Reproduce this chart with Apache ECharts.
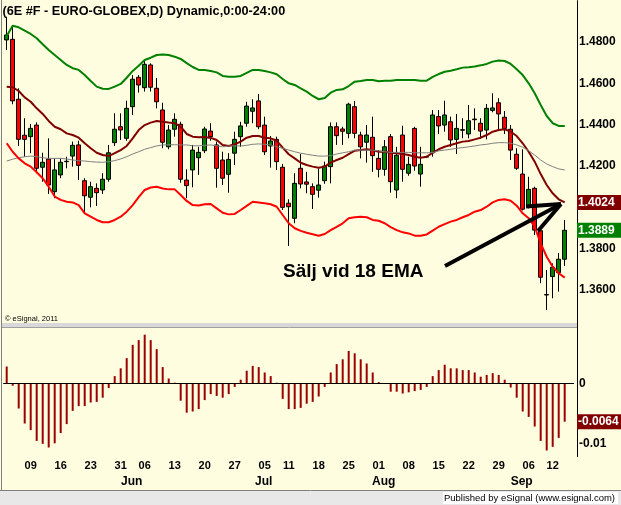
<!DOCTYPE html>
<html>
<head>
<meta charset="utf-8">
<title>6E #F EURO-GLOBEX</title>
<script src="https://cdn.jsdelivr.net/npm/echarts@6/dist/echarts.min.js"></script>
<style>
  html, body { margin: 0; padding: 0; background: #fefde0; }
  #chart { width: 621px; height: 505px; }
</style>
</head>
<body>
<div id="chart"></div>
<script>
// trading days, 3 May - 14 Sep 2011
const dates = [
  "2011-05-03", "2011-05-04", "2011-05-05", "2011-05-06", "2011-05-09", "2011-05-10", "2011-05-11", "2011-05-12", "2011-05-13",
  "2011-05-16", "2011-05-17", "2011-05-18", "2011-05-19", "2011-05-20", "2011-05-23", "2011-05-24", "2011-05-25", "2011-05-26",
  "2011-05-27", "2011-05-31", "2011-06-01", "2011-06-02", "2011-06-03", "2011-06-06", "2011-06-07", "2011-06-08", "2011-06-09",
  "2011-06-10", "2011-06-13", "2011-06-14", "2011-06-15", "2011-06-16", "2011-06-17", "2011-06-20", "2011-06-21", "2011-06-22",
  "2011-06-23", "2011-06-24", "2011-06-27", "2011-06-28", "2011-06-29", "2011-06-30", "2011-07-01", "2011-07-05", "2011-07-06",
  "2011-07-07", "2011-07-08", "2011-07-11", "2011-07-12", "2011-07-13", "2011-07-14", "2011-07-15", "2011-07-18", "2011-07-19",
  "2011-07-20", "2011-07-21", "2011-07-22", "2011-07-25", "2011-07-26", "2011-07-27", "2011-07-28", "2011-07-29", "2011-08-01",
  "2011-08-02", "2011-08-03", "2011-08-04", "2011-08-05", "2011-08-08", "2011-08-09", "2011-08-10", "2011-08-11", "2011-08-12",
  "2011-08-15", "2011-08-16", "2011-08-17", "2011-08-18", "2011-08-19", "2011-08-22", "2011-08-23", "2011-08-24", "2011-08-25",
  "2011-08-26", "2011-08-29", "2011-08-30", "2011-08-31", "2011-09-01", "2011-09-02", "2011-09-06", "2011-09-07", "2011-09-08",
  "2011-09-09", "2011-09-12", "2011-09-13", "2011-09-14"
];

// open, close, low, high
const ohlc = [
  [1.4810, 1.4834, 1.4761, 1.4922], [1.4813, 1.4515, 1.4499, 1.4882], [1.4523, 1.4329, 1.4297, 1.4576],
  [1.4349, 1.4329, 1.4245, 1.4431], [1.4342, 1.4382, 1.4262, 1.4403], [1.4398, 1.4189, 1.4165, 1.4411],
  [1.4194, 1.4218, 1.4124, 1.4264], [1.4234, 1.4108, 1.4065, 1.4334], [1.4076, 1.4181, 1.4044, 1.4237],
  [1.4157, 1.4218, 1.4141, 1.4237], [1.4221, 1.4223, 1.4189, 1.4245], [1.4248, 1.4300, 1.4197, 1.4318],
  [1.4302, 1.4203, 1.4132, 1.4322], [1.4129, 1.4056, 1.3968, 1.4141], [1.4049, 1.4100, 1.4000, 1.4124],
  [1.4092, 1.4071, 1.4007, 1.4116], [1.4084, 1.4136, 1.4065, 1.4165], [1.4136, 1.4264, 1.4124, 1.4302],
  [1.4313, 1.4378, 1.4297, 1.4455], [1.4390, 1.4374, 1.4326, 1.4455], [1.4334, 1.4479, 1.4322, 1.4516],
  [1.4487, 1.4620, 1.4447, 1.4640], [1.4629, 1.4592, 1.4555, 1.4640], [1.4579, 1.4692, 1.4560, 1.4713],
  [1.4689, 1.4581, 1.4560, 1.4697], [1.4576, 1.4511, 1.4479, 1.4626], [1.4471, 1.4315, 1.4286, 1.4506],
  [1.4293, 1.4374, 1.4281, 1.4398], [1.4378, 1.4426, 1.4342, 1.4455], [1.4402, 1.4136, 1.4119, 1.4414],
  [1.4132, 1.4105, 1.4044, 1.4184], [1.4181, 1.4277, 1.4097, 1.4302], [1.4240, 1.4266, 1.4157, 1.4293],
  [1.4274, 1.4379, 1.4262, 1.4390], [1.4369, 1.4342, 1.4322, 1.4407], [1.4302, 1.4189, 1.4095, 1.4318],
  [1.4229, 1.4141, 1.4108, 1.4269], [1.4160, 1.4232, 1.4071, 1.4262], [1.4262, 1.4329, 1.4205, 1.4366],
  [1.4342, 1.4394, 1.4293, 1.4414], [1.4407, 1.4490, 1.4390, 1.4511], [1.4465, 1.4481, 1.4407, 1.4523],
  [1.4515, 1.4390, 1.4378, 1.4548], [1.4398, 1.4269, 1.4253, 1.4439], [1.4297, 1.4321, 1.4192, 1.4345],
  [1.4329, 1.4221, 1.4181, 1.4342], [1.4194, 1.4000, 1.3987, 1.4210], [1.4020, 1.4003, 1.3813, 1.4039],
  [1.3947, 1.4116, 1.3923, 1.4165], [1.4189, 1.4113, 1.4092, 1.4258], [1.4123, 1.4112, 1.4068, 1.4172],
  [1.4100, 1.4063, 1.3992, 1.4116], [1.4083, 1.4108, 1.4047, 1.4189], [1.4129, 1.4200, 1.4114, 1.4221],
  [1.4197, 1.4390, 1.4116, 1.4411], [1.4390, 1.4347, 1.4302, 1.4411], [1.4379, 1.4368, 1.4302, 1.4390],
  [1.4358, 1.4499, 1.4334, 1.4506], [1.4487, 1.4358, 1.4334, 1.4515], [1.4350, 1.4293, 1.4237, 1.4366],
  [1.4315, 1.4350, 1.4216, 1.4398], [1.4339, 1.4250, 1.4172, 1.4439], [1.4237, 1.4184, 1.4145, 1.4277],
  [1.4184, 1.4293, 1.4153, 1.4326], [1.4342, 1.4124, 1.4071, 1.4355], [1.4084, 1.4252, 1.4044, 1.4293],
  [1.4350, 1.4184, 1.4124, 1.4395], [1.4165, 1.4208, 1.4153, 1.4245], [1.4382, 1.4200, 1.4177, 1.4390],
  [1.4161, 1.4208, 1.4100, 1.4293], [1.4243, 1.4246, 1.4238, 1.4250], [1.4264, 1.4447, 1.4245, 1.4471],
  [1.4439, 1.4394, 1.4355, 1.4471], [1.4398, 1.4447, 1.4366, 1.4516], [1.4414, 1.4326, 1.4293, 1.4439],
  [1.4329, 1.4382, 1.4258, 1.4452], [1.4373, 1.4376, 1.4334, 1.4431], [1.4355, 1.4419, 1.4334, 1.4495],
  [1.4424, 1.4427, 1.4374, 1.4479], [1.4407, 1.4369, 1.4334, 1.4431], [1.4374, 1.4479, 1.4329, 1.4500],
  [1.4469, 1.4481, 1.4460, 1.4552], [1.4506, 1.4452, 1.4378, 1.4528], [1.4436, 1.4382, 1.4355, 1.4466],
  [1.4378, 1.4277, 1.4229, 1.4398], [1.4257, 1.4189, 1.4181, 1.4286], [1.4161, 1.3991, 1.3985, 1.4281],
  [1.4007, 1.4087, 1.3995, 1.4148], [1.4092, 1.3890, 1.3866, 1.4100], [1.3887, 1.3662, 1.3633, 1.3899],
  [1.3578, 1.3576, 1.3503, 1.3697], [1.3665, 1.3710, 1.3560, 1.3729], [1.3684, 1.3749, 1.3592, 1.3779],
  [1.3749, 1.3889, 1.3716, 1.3939]
];

const upperBand = [
  1.4829, 1.4879, 1.4871, 1.4855, 1.4839, 1.4818, 1.4789, 1.4761, 1.4737, 1.4713,
  1.4689, 1.4673, 1.4665, 1.4640, 1.4611, 1.4584, 1.4574, 1.4573, 1.4584, 1.4597,
  1.4627, 1.4660, 1.4685, 1.4713, 1.4724, 1.4737, 1.4740, 1.4737, 1.4729, 1.4718,
  1.4698, 1.4679, 1.4665, 1.4665, 1.4660, 1.4653, 1.4636, 1.4632, 1.4632, 1.4636,
  1.4651, 1.4665, 1.4665, 1.4660, 1.4653, 1.4644, 1.4621, 1.4600, 1.4592, 1.4576,
  1.4560, 1.4539, 1.4523, 1.4529, 1.4555, 1.4568, 1.4571, 1.4587, 1.4608, 1.4611,
  1.4616, 1.4616, 1.4610, 1.4613, 1.4613, 1.4616, 1.4616, 1.4616, 1.4616, 1.4613,
  1.4613, 1.4631, 1.4645, 1.4656, 1.4661, 1.4668, 1.4676, 1.4678, 1.4681, 1.4687,
  1.4694, 1.4705, 1.4710, 1.4708, 1.4694, 1.4668, 1.4640, 1.4600, 1.4552, 1.4495,
  1.4442, 1.4407, 1.4394, 1.4394
];

const ema18 = [
  1.4584, 1.4581, 1.4563, 1.4532, 1.4511, 1.4479, 1.4452, 1.4418, 1.4390, 1.4378,
  1.4358, 1.4350, 1.4337, 1.4310, 1.4286, 1.4264, 1.4253, 1.4248, 1.4262, 1.4277,
  1.4297, 1.4334, 1.4374, 1.4398, 1.4410, 1.4418, 1.4414, 1.4410, 1.4407, 1.4390,
  1.4355, 1.4342, 1.4339, 1.4340, 1.4336, 1.4326, 1.4302, 1.4297, 1.4305, 1.4318,
  1.4337, 1.4345, 1.4345, 1.4337, 1.4334, 1.4322, 1.4289, 1.4257, 1.4237, 1.4216,
  1.4205, 1.4197, 1.4192, 1.4197, 1.4216, 1.4229, 1.4240, 1.4257, 1.4274, 1.4277,
  1.4281, 1.4277, 1.4269, 1.4269, 1.4264, 1.4262, 1.4258, 1.4253, 1.4245, 1.4240,
  1.4245, 1.4265, 1.4281, 1.4293, 1.4302, 1.4310, 1.4318, 1.4321, 1.4329, 1.4337,
  1.4350, 1.4366, 1.4374, 1.4378, 1.4366, 1.4345, 1.4310, 1.4269, 1.4221, 1.4161,
  1.4108, 1.4068, 1.4039, 1.4024
];

const slowAvg = [
  1.4224, 1.4233, 1.4240, 1.4245, 1.4248, 1.4245, 1.4240, 1.4237, 1.4237, 1.4237,
  1.4234, 1.4229, 1.4226, 1.4224, 1.4221, 1.4219, 1.4218, 1.4221, 1.4226, 1.4234,
  1.4245, 1.4258, 1.4269, 1.4281, 1.4289, 1.4297, 1.4302, 1.4303, 1.4303, 1.4302,
  1.4302, 1.4298, 1.4298, 1.4300, 1.4302, 1.4298, 1.4293, 1.4297, 1.4297, 1.4297,
  1.4300, 1.4305, 1.4307, 1.4305, 1.4302, 1.4293, 1.4286, 1.4277, 1.4269, 1.4262,
  1.4257, 1.4252, 1.4248, 1.4248, 1.4250, 1.4258, 1.4264, 1.4269, 1.4276, 1.4277,
  1.4277, 1.4277, 1.4273, 1.4269, 1.4266, 1.4266, 1.4266, 1.4266, 1.4264, 1.4264,
  1.4264, 1.4265, 1.4273, 1.4277, 1.4281, 1.4286, 1.4289, 1.4293, 1.4297, 1.4302,
  1.4305, 1.4310, 1.4313, 1.4313, 1.4310, 1.4302, 1.4291, 1.4274, 1.4253, 1.4229,
  1.4210, 1.4197, 1.4186, 1.4181
];

const lowerBand = [
  1.4310, 1.4269, 1.4237, 1.4213, 1.4197, 1.4170, 1.4141, 1.4100, 1.4052, 1.4036,
  1.4027, 1.4024, 1.4011, 1.3971, 1.3955, 1.3939, 1.3928, 1.3928, 1.3939, 1.3955,
  1.3979, 1.4011, 1.4049, 1.4084, 1.4096, 1.4100, 1.4091, 1.4087, 1.4087, 1.4060,
  1.4031, 1.4011, 1.4009, 1.4015, 1.4016, 1.3995, 1.3974, 1.3966, 1.3968, 1.3987,
  1.4007, 1.4027, 1.4024, 1.4020, 1.4015, 1.4003, 1.3963, 1.3923, 1.3899, 1.3886,
  1.3877, 1.3870, 1.3863, 1.3871, 1.3890, 1.3906, 1.3923, 1.3947, 1.3952, 1.3955,
  1.3952, 1.3939, 1.3935, 1.3923, 1.3904, 1.3890, 1.3879, 1.3874, 1.3863, 1.3863,
  1.3869, 1.3887, 1.3906, 1.3919, 1.3931, 1.3939, 1.3952, 1.3963, 1.3979, 1.3987,
  1.4003, 1.4024, 1.4036, 1.4039, 1.4032, 1.4008, 1.3971, 1.3947, 1.3906, 1.3826,
  1.3761, 1.3713, 1.3681, 1.3660
];

const oscillator = [
  0.0028, -0.0004, -0.0042, -0.0067, -0.0078, -0.0096, -0.0101, -0.0107, -0.0100, -0.0083,
  -0.0068, -0.0046, -0.0038, -0.0038, -0.0032, -0.0031, -0.0024, -0.0008, 0.0012, 0.0025,
  0.0042, 0.0064, 0.0072, 0.0081, 0.0072, 0.0057, 0.0027, 0.0008, 0.0001, -0.0029,
  -0.0049, -0.0047, -0.0043, -0.0028, -0.0018, -0.0021, -0.0024, -0.0018, -0.0006, 0.0006,
  0.0021, 0.0029, 0.0027, 0.0018, 0.0012, 0.0001, -0.0026, -0.0043, -0.0043, -0.0041,
  -0.0034, -0.0031, -0.0022, -0.0006, 0.0018, 0.0032, 0.0040, 0.0054, 0.0050, 0.0040,
  0.0033, 0.0018, 0.0002, 0.0000, -0.0014, -0.0014, -0.0017, -0.0015, -0.0013, -0.0011,
  -0.0006, 0.0012, 0.0022, 0.0031, 0.0025, 0.0025, 0.0022, 0.0022, 0.0018, 0.0011,
  0.0014, 0.0017, 0.0014, 0.0006, -0.0007, -0.0024, -0.0047, -0.0056, -0.0072, -0.0096,
  -0.0112, -0.0106, -0.0091, -0.0064
];

const priceTicks = [1.36, 1.38, 1.42, 1.44, 1.46, 1.48];
const oscTicks = [0, -0.01];
const oscTickLabels = ["0", "-0.01"];
const monthNames = ["Jan", "Feb", "Mar", "Apr", "May", "Jun", "Jul", "Aug", "Sep", "Oct", "Nov", "Dec"];

const FONT = '"Liberation Sans", Arial, sans-serif';
const last = dates.length - 1;

function weekday(i) {
  return new Date(dates[i] + "T00:00:00Z").getUTCDay();
}
function isWeekStart(i) {
  return i > 0 && i < dates.length && weekday(i) < weekday(i - 1);
}
function isMonthStart(i) {
  return i > 0 && i < dates.length && dates[i].slice(5, 7) !== dates[i - 1].slice(5, 7);
}

const chart = echarts.init(document.getElementById("chart"));

chart.setOption({
  animation: false,
  backgroundColor: "#fefde0",
  grid: [
    { left: 3.7, width: 570, top: 0.66, height: 330.7 },
    { left: 3.7, width: 570, top: 328.1, height: 128.4 },
  ],
  xAxis: [
    { type: "category", gridIndex: 0, data: dates, max: 94, show: false },
    {
      type: "category",
      gridIndex: 1,
      data: dates,
      max: 94,
      axisLine: { lineStyle: { color: "#000", width: 1 } },
      axisTick: {
        inside: true,
        length: 4,
        interval: (i) => isWeekStart(i),
        lineStyle: { color: "#000" },
      },
      axisLabel: {
        interval: (i) => isWeekStart(i) || isMonthStart(i),
        margin: 2,
        formatter: (value, i) => {
          const day = isWeekStart(i) ? value.slice(8, 10) : " ";
          const month = isMonthStart(i) ? monthNames[+value.slice(5, 7) - 1] : " ";
          return "{d|" + day + "}\n{m|" + month + "}";
        },
        rich: {
          d: { fontFamily: FONT, fontWeight: "bold", fontSize: 11, color: "#000", lineHeight: 15.6 },
          m: { fontFamily: FONT, fontWeight: "bold", fontSize: 12, color: "#000", lineHeight: 15.6, padding: [0, 0, 0, 10] },
        },
      },
    },
  ],
  yAxis: [
    {
      type: "value",
      gridIndex: 0,
      position: "right",
      offset: 3.3,
      min: 1.34,
      max: 1.5,
      interval: 0.02,
      splitLine: { show: false },
      axisLine: { show: true, lineStyle: { color: "#000", width: 1 } },
      axisTick: { show: false },
      axisLabel: {
        margin: 2,
        color: "#000",
        fontFamily: FONT,
        fontWeight: "bold",
        fontSize: 12,
        formatter: (v) => (priceTicks.some((t) => Math.abs(t - v) < 1e-9) ? v.toFixed(4) : ""),
      },
    },
    {
      type: "value",
      gridIndex: 1,
      position: "right",
      offset: 3.3,
      min: -0.0122,
      max: 0.0092,
      interval: 0.0002,
      splitLine: { show: false },
      axisLine: { show: true, lineStyle: { color: "#000", width: 1 } },
      axisTick: { show: false },
      axisLabel: {
        margin: 2,
        color: "#000",
        fontFamily: FONT,
        fontWeight: "bold",
        fontSize: 12,
        formatter: (v) => {
          const k = oscTicks.findIndex((t) => Math.abs(t - v) < 1e-9);
          return k < 0 ? "" : oscTickLabels[k];
        },
      },
    },
  ],
  series: [
    {
      type: "candlestick",
      xAxisIndex: 0,
      yAxisIndex: 0,
      data: ohlc,
      barWidth: 4,
      itemStyle: {
        color: "#008000",
        color0: "#ff0000",
        borderColor: "#000",
        borderColor0: "#000",
        borderWidth: 1,
      },
    },
    {
      type: "line", xAxisIndex: 0, yAxisIndex: 0, data: upperBand,
      symbol: "none", lineStyle: { color: "#008000", width: 2 },
    },
    {
      type: "line", xAxisIndex: 0, yAxisIndex: 0, data: ema18,
      symbol: "none", lineStyle: { color: "#800000", width: 2 },
    },
    {
      type: "line", xAxisIndex: 0, yAxisIndex: 0, data: slowAvg,
      symbol: "none", lineStyle: { color: "#808080", width: 1 },
    },
    {
      type: "line", xAxisIndex: 0, yAxisIndex: 0, data: lowerBand,
      symbol: "none", lineStyle: { color: "#ff0000", width: 2 },
    },
    {
      type: "bar",
      xAxisIndex: 1,
      yAxisIndex: 1,
      data: oscillator,
      barWidth: 2,
      itemStyle: { color: "#990000" },
      markLine: {
        silent: true,
        symbol: "none",
        label: { show: false },
        lineStyle: { color: "#000", width: 1, type: "solid" },
        data: [{ yAxis: 0 }],
      },
    },
  ],
});

// last-value tags on the right axis
function tag(id, value, axis, fill, text) {
  const y = chart.convertToPixel({ yAxisIndex: axis }, value);
  return [
    { type: "rect", id: id + "-box", z: 100, shape: { x: 577, y: y - 7.5, width: 44, height: 15 }, style: { fill: fill } },
    {
      type: "text", id: id + "-txt", z: 101, x: 578, y: y,
      style: { text: text, fill: "#fff", font: "bold 12px " + FONT, align: "left", verticalAlign: "middle" },
    },
  ];
}

const lastClose = ohlc[last][1];
const ink = { stroke: "#000", lineWidth: 4, fill: null };

chart.setOption({
  graphic: [
    { type: "line", id: "left-border", shape: { x1: 1.5, y1: 0, x2: 1.5, y2: 490 }, style: { stroke: "#808080", lineWidth: 1 } },
    { type: "rect", id: "sep", shape: { x: 2, y: 323, width: 575, height: 4 }, style: { fill: "#d8d8d8" } },
    { type: "line", id: "sep-line", shape: { x1: 2, y1: 327.5, x2: 577, y2: 327.5 }, style: { stroke: "#a0a0a0", lineWidth: 1 } },
    { type: "line", id: "foot-line", shape: { x1: 0, y1: 490.5, x2: 621, y2: 490.5 }, style: { stroke: "#808080", lineWidth: 1 } },
    { type: "rect", id: "foot", shape: { x: 0, y: 491, width: 621, height: 14 }, style: { fill: "#e8e8e8" } },
    { type: "rect", id: "foot-box", shape: { x: 443, y: 492, width: 175, height: 12 }, style: { fill: "#fff" } },
    {
      type: "text", id: "foot-txt", x: 615, y: 498,
      style: { text: "Published by eSignal (www.esignal.com)", fill: "#000", font: "9.5px " + FONT, align: "right", verticalAlign: "middle" },
    },
    {
      type: "text", id: "title", x: 2.5, y: 11,
      style: { text: "(6E #F - EURO-GLOBEX,D) Dynamic,0:00-24:00", fill: "#000", font: "bold 12.7px " + FONT, verticalAlign: "middle" },
    },
    {
      type: "text", id: "copy", x: 5, y: 318.5,
      style: { text: "\u00a9 eSignal, 2011", fill: "#000", font: "7.5px " + FONT, verticalAlign: "middle" },
    },
    {
      type: "text", id: "note", x: 283, y: 272, z: 50,
      style: { text: "S\u00e4lj vid 18 EMA", fill: "#000", font: "bold 19px " + FONT, verticalAlign: "middle" },
    },
    { type: "polyline", id: "arrow-shaft", z: 50, shape: { points: [[445, 266], [561, 204]] }, style: ink },
    { type: "polyline", id: "arrow-head-a", z: 50, shape: { points: [[526, 206.5], [561, 204]] }, style: ink },
    { type: "polyline", id: "arrow-head-b", z: 50, shape: { points: [[538, 231], [561, 204]] }, style: ink },
  ]
    .concat(tag("ema", ema18[last], 0, "#800000", ema18[last].toFixed(4)))
    .concat(tag("close", lastClose, 0, "#008000", lastClose.toFixed(4)))
    .concat(tag("osc", oscillator[last], 1, "#800000", oscillator[last].toFixed(4))),
});
</script>
</body>
</html>
